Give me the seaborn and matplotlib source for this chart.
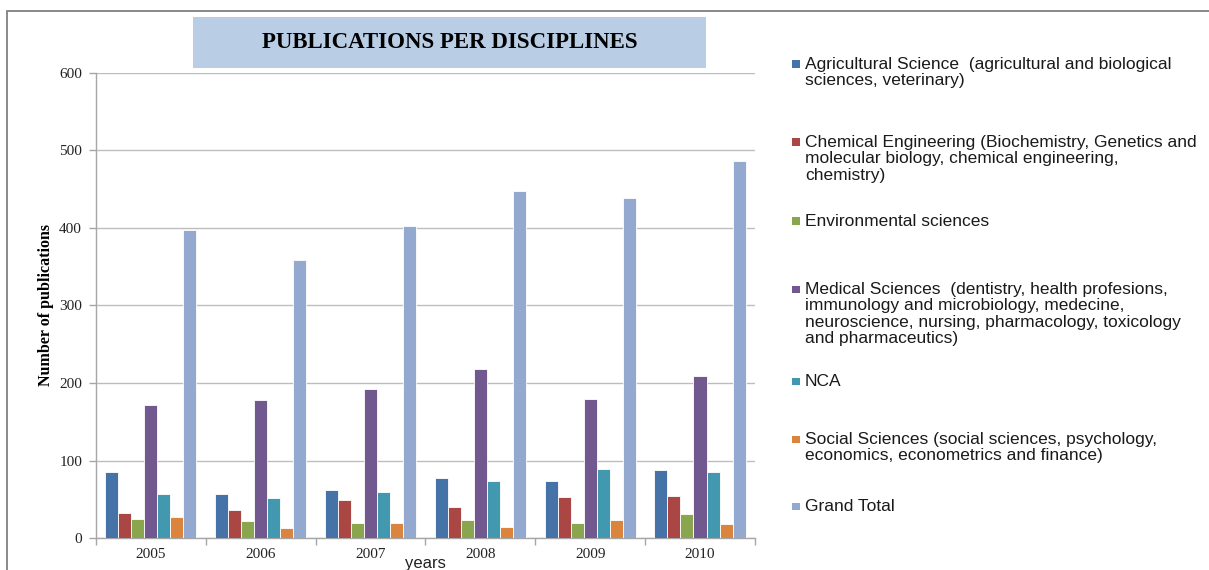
import matplotlib
matplotlib.use("Agg")
import matplotlib.pyplot as plt
from matplotlib.patches import Rectangle
import seaborn as sns
import pandas as pd

years = ["2005", "2006", "2007", "2008", "2009", "2010"]
disciplines = [
    "Agricultural Science  (agricultural and biological\nsciences, veterinary)",
    "Chemical Engineering (Biochemistry, Genetics and\nmolecular biology, chemical engineering,\nchemistry)",
    "Environmental sciences",
    "Medical Sciences  (dentistry, health profesions,\nimmunology and microbiology, medecine,\nneuroscience, nursing, pharmacology, toxicology\nand pharmaceutics)",
    "NCA",
    "Social Sciences (social sciences, psychology,\neconomics, econometrics and finance)",
    "Grand Total",
]
agricultural = [85, 57, 62, 78, 74, 88]
chemical = [32, 36, 49, 40, 53, 54]
environmental = [24, 22, 20, 23, 19, 31]
medical = [171, 178, 192, 218, 179, 209]
nca = [57, 52, 60, 74, 89, 85]
social = [27, 13, 20, 14, 23, 18]
grand_total = [397, 359, 403, 448, 439, 486]
series = [agricultural, chemical, environmental, medical, nca, social, grand_total]

colors = ["#4572A7", "#AA4643", "#89A54E", "#71588F", "#4198AF", "#DB843D", "#93A9CF"]

rows = []
for name, vals in zip(disciplines, series):
    for y, v in zip(years, vals):
        rows.append({"year": y, "count": v, "discipline": name})
df = pd.DataFrame(rows)

sns.set_theme(style="white")
plt.rcParams["font.family"] = ["Liberation Serif", "DejaVu Serif"]

fig = plt.figure(figsize=(12.09, 5.70), dpi=100)
ax = fig.add_axes([0.0794, 0.0561, 0.545, 0.816])

sns.barplot(data=df, x="year", y="count", hue="discipline", order=years,
            hue_order=disciplines, palette=colors, saturation=1, width=0.83,
            edgecolor="white", linewidth=0.6, legend=False, ax=ax, zorder=3)

ax.set_ylim(0, 600)
ax.set_xlim(-0.5, 5.5)
ax.set_yticks([0, 100, 200, 300, 400, 500, 600])
ax.yaxis.grid(True, color="#BDBDBD", linewidth=1.0, zorder=0)
ax.set_axisbelow(True)
for s in ["top", "right"]:
    ax.spines[s].set_visible(False)
for s in ["left", "bottom"]:
    ax.spines[s].set_color("#A6A6A6")
    ax.spines[s].set_linewidth(1.0)
ax.tick_params(axis="y", which="major", direction="out", length=5, width=1,
               color="#A6A6A6", labelsize=11, pad=5, left=True)
ax.tick_params(axis="x", which="major", length=0, labelsize=11, pad=7)
ax.set_xticks([i + 0.5 for i in range(-1, 6)], minor=True)
ax.tick_params(axis="x", which="minor", direction="out", length=5, width=1,
               color="#A6A6A6", bottom=True)
for lab in ax.get_xticklabels() + ax.get_yticklabels():
    lab.set_color("#222222")
ax.set_xlabel("")
ax.set_ylabel("Number of publications", fontsize=11.5, fontweight="bold",
              labelpad=4, color="black")

fig.text(0.352, 0.0035, "years", ha="center", va="baseline", fontsize=12,
         family=["Liberation Sans", "DejaVu Sans"], color="#222222")

# outer frame
fig.patches.append(Rectangle((0.0058, -0.2), 1.5, 0.9807 + 0.2, transform=fig.transFigure,
                             fill=False, edgecolor="#808080", linewidth=1.3))

# title box
fig.patches.append(Rectangle((0.1596, 0.8807), 0.4244, 0.0895, transform=fig.transFigure,
                             facecolor="#B9CDE5", edgecolor="none"))
fig.text(0.3718, 0.926, "PUBLICATIONS PER DISCIPLINES", ha="center", va="center",
         fontsize=16.5, fontweight="bold", color="black")

# legend (manual, free layout)
legend_y = [64, 142, 221, 289, 381, 439, 506]
W, H = 1209, 570
for name, col, ypx in zip(disciplines, colors, legend_y):
    fig.patches.append(Rectangle((792 / W, 1 - (ypx + 3.5) / H), 8 / W, 7 / H,
                                 transform=fig.transFigure, facecolor=col, edgecolor="none"))
    fig.text(805 / W, 1 - (ypx - 7) / H, name, ha="left", va="top", fontsize=12.5,
             family=["Liberation Sans", "DejaVu Sans"], color="#1a1a1a", linespacing=1.12)

fig.savefig("out.png", dpi=100)
